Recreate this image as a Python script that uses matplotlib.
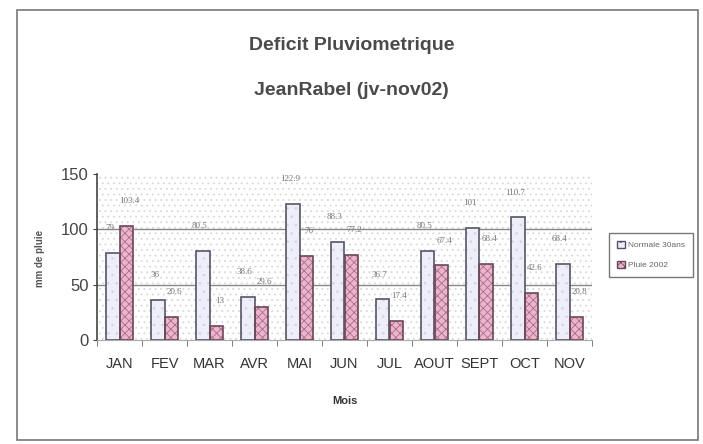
import numpy as np
import matplotlib.pyplot as plt
from matplotlib.patches import Rectangle, Patch

# === Donnees (mm de pluie) ===
mois = ["JAN", "FEV", "MAR", "AVR", "MAI", "JUN", "JUL", "AOUT", "SEPT", "OCT", "NOV"]
normale = [79, 36, 80.5, 38.6, 122.9, 88.3, 36.7, 80.5, 101, 110.7, 68.4]
pluie_2002 = [103.4, 20.6, 13, 29.6, 76, 77.2, 17.4, 67.4, 68.4, 42.6, 20.8]

plt.rcParams['font.family'] = ['Liberation Sans', 'DejaVu Sans']
plt.rcParams['hatch.linewidth'] = 0.6

fig = plt.figure(figsize=(7.03, 4.44), dpi=100)
fig.patches.append(Rectangle((17 / 703, 4 / 444), 681 / 703, 430 / 444,
                             transform=fig.transFigure, fill=False,
                             edgecolor="#777777", linewidth=1.2))

ax = fig.add_axes([97 / 703, 104 / 444, 495 / 703, 166 / 444])
ax.set_facecolor("white")
ax.patch.set_hatch("...")
ax.patch.set_edgecolor("#d8d8d8")

x = np.arange(len(mois))
w = 0.31

# remplissage hachure
ax.bar(x - w / 2, normale, w, color="#eeeef9", edgecolor="#d8d0e8", hatch="..", linewidth=0, zorder=2)
ax.bar(x + w / 2, pluie_2002, w, color="#eab6cd", edgecolor="#b06a8a", hatch="xxxx", linewidth=0, zorder=2)
# contours
ax.bar(x - w / 2, normale, w, fill=False, edgecolor="#555566", linewidth=1.2, zorder=3)
ax.bar(x + w / 2, pluie_2002, w, fill=False, edgecolor="#6a4858", linewidth=1.2, zorder=3)

for xi, v in zip(x, normale):
    ax.annotate(f"{v:g}", (xi - w / 2, v), xytext=(-2, 15), textcoords="offset points",
                ha="center", va="bottom", fontsize=6.5, color="#777777", family="Liberation Serif")
for xi, v in zip(x, pluie_2002):
    ax.annotate(f"{v:g}", (xi + w / 2, v), xytext=(2, 15), textcoords="offset points",
                ha="center", va="bottom", fontsize=6.5, color="#777777", family="Liberation Serif")

ax.set_ylim(0, 150)
ax.set_xlim(-0.5, len(mois) - 0.5)
ax.set_yticks([0, 50, 100, 150])
ax.tick_params(axis="y", labelsize=12, colors="#444444", length=3, pad=3)
ax.set_xticks(x)
ax.set_xticklabels(mois)
ax.tick_params(axis="x", labelsize=10.5, colors="#333333", length=0, pad=12)
ax.set_xticks(np.arange(len(mois) + 1) - 0.5, minor=True)
ax.tick_params(axis="x", which="minor", length=4, color="#666666")

for yv in [50, 100]:
    ax.axhline(yv, color="#888888", linewidth=1.0, zorder=1)

for s in ["top", "right"]:
    ax.spines[s].set_visible(False)
ax.spines["left"].set_color("#444444")
ax.spines["left"].set_linewidth(1.2)
ax.spines["bottom"].set_color("#aaaaaa")

ax.set_xlabel("Mois", fontsize=8, fontweight="bold", color="#333333", labelpad=18)
fig.text(40 / 703, 1 - 258 / 444, "mm de pluie", rotation=90, ha="center", va="center",
         fontsize=7, fontweight="bold", color="#555555")

fig.text(0.5, 1 - 45 / 444, "Deficit Pluviometrique", ha="center", va="center",
         fontsize=14, fontweight="bold", color="#4a4a4a")
fig.text(0.5, 1 - 90 / 444, "JeanRabel (jv-nov02)", ha="center", va="center",
         fontsize=14, fontweight="bold", color="#4a4a4a")

handles = [Patch(facecolor="#eeeef9", edgecolor="#555566", hatch=".."),
           Patch(facecolor="#eab6cd", edgecolor="#6a4858", hatch="xxxx")]
leg = fig.legend(handles, ["Normale 30ans", "Pluie 2002"], loc="center left",
                 bbox_to_anchor=(605 / 703, 1 - 255 / 444), fontsize=6, frameon=True,
                 fancybox=False, edgecolor="#555555", handlelength=1.0, handleheight=1.0,
                 borderpad=0.9, labelspacing=1.4, handletextpad=0.4)
leg.get_frame().set_linewidth(1.0)
for t in leg.get_texts():
    t.set_color("#666666")

fig.savefig("out.png", dpi=100)
